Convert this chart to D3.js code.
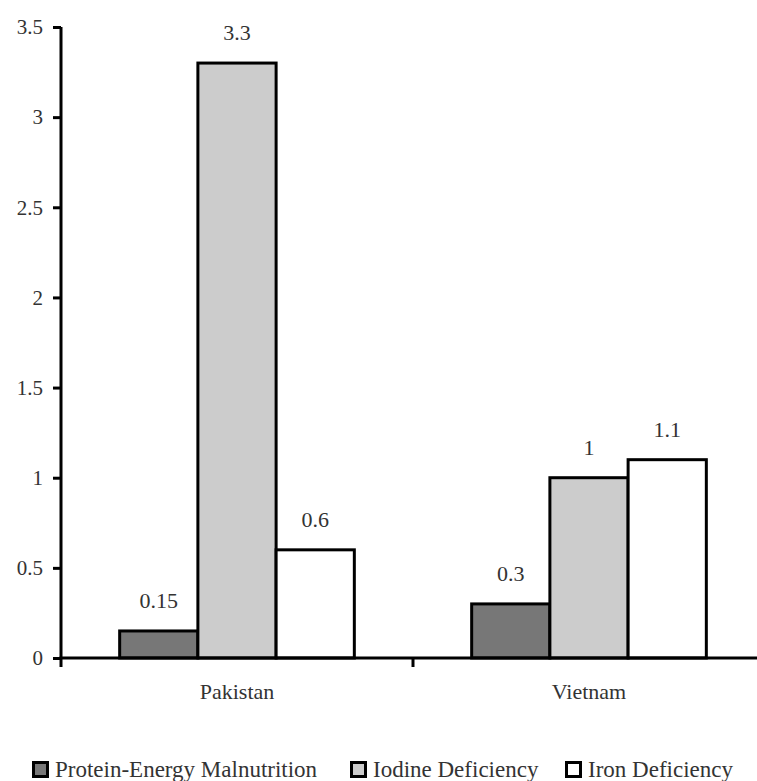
<!DOCTYPE html>
<html>
<head>
<meta charset="utf-8">
<script src="https://cdn.jsdelivr.net/npm/d3@7"></script>
<style>
  html, body { margin: 0; padding: 0; background: #fff; }
  text { font-family: "Liberation Serif", "Times New Roman", Times, serif; }
</style>
</head>
<body>
<svg id="chart" width="757" height="781"></svg>
<script>
const categories = ["Pakistan", "Vietnam"];
const seriesNames = ["Protein-Energy Malnutrition", "Iodine Deficiency", "Iron Deficiency"];
const proteinEnergy = [0.15, 0.3];
const iodine = [3.3, 1];
const iron = [0.6, 1.1];
const valueLabels = [["0.15", "3.3", "0.6"], ["0.3", "1", "1.1"]];
const yTicks = [0, 0.5, 1, 1.5, 2, 2.5, 3, 3.5];
const colors = ["#777777", "#cccccc", "#ffffff"];

const seriesValues = [proteinEnergy, iodine, iron];
const FONT = "Liberation Serif";

const svg = d3.select("#chart");
const mLeft = 61, mRight = 765, mTop = 27, mBottom = 658;

const x = d3.scaleBand().domain(categories).range([mLeft, mRight])
  .paddingInner(1/3).paddingOuter(1/6);
const xs = d3.scaleBand().domain(d3.range(seriesNames.length)).range([0, x.bandwidth()]).padding(0);
const y = d3.scaleLinear().domain([0, 3.5]).range([mBottom, mTop]);

// Bars
categories.forEach((c, ci) => {
  const g = svg.append("g").attr("transform", `translate(${x(c)},0)`);
  seriesValues.forEach((vals, si) => {
    g.append("rect")
      .attr("x", xs(si))
      .attr("y", y(vals[ci]))
      .attr("width", xs.bandwidth())
      .attr("height", y(0) - y(vals[ci]))
      .attr("fill", colors[si])
      .attr("stroke", "#000")
      .attr("stroke-width", 3);
    g.append("text")
      .attr("x", xs(si) + xs.bandwidth() / 2)
      .attr("y", y(vals[ci]) - 23)
      .attr("text-anchor", "middle")
      .attr("font-family", FONT)
      .attr("font-size", 22)
      .attr("fill", "#333")
      .text(valueLabels[ci][si]);
  });
});

// Y axis
const yAxis = d3.axisLeft(y).tickValues(yTicks).tickSize(8).tickPadding(10)
  .tickFormat(d => d3.format("")(d));
const ya = svg.append("g").attr("transform", `translate(${mLeft},0)`).call(yAxis)
  .attr("font-family", FONT).attr("font-size", 21);
ya.select(".domain").attr("stroke", "#000").attr("stroke-width", 3)
  .attr("d", `M0,${mTop}V${mBottom}`);
ya.selectAll(".tick line").attr("stroke", "#000").attr("stroke-width", 3);
ya.selectAll(".tick text").attr("font-size", 21).attr("fill", "#333")
  .attr("font-family", FONT);

// X axis
const xa = svg.append("g").attr("transform", `translate(0,${mBottom})`);
xa.append("line").attr("x1", mLeft - 1.5).attr("x2", mRight).attr("y1", 0).attr("y2", 0)
  .attr("stroke", "#000").attr("stroke-width", 3);
const boundaries = [mLeft, ...categories.slice(1).map(c => x(c) - x.step() * x.paddingInner() / 2), mRight];
boundaries.forEach(b => {
  xa.append("line").attr("x1", b).attr("x2", b).attr("y1", 0).attr("y2", 9)
    .attr("stroke", "#000").attr("stroke-width", 3);
});
categories.forEach(c => {
  xa.append("text")
    .attr("x", x(c) + x.bandwidth() / 2)
    .attr("y", 41)
    .attr("text-anchor", "middle")
    .attr("font-family", FONT)
    .attr("font-size", 22)
    .attr("fill", "#333")
    .text(c);
});

// Legend
const legendX = [32, 350, 565];
const legend = svg.append("g");
seriesNames.forEach((n, i) => {
  legend.append("rect")
    .attr("x", legendX[i] + 1.5).attr("y", 762.5)
    .attr("width", 14).attr("height", 14)
    .attr("fill", colors[i]).attr("stroke", "#000").attr("stroke-width", 3);
  legend.append("text")
    .attr("x", legendX[i] + 23).attr("y", 777)
    .attr("font-family", FONT)
    .attr("font-size", 23)
    .attr("fill", "#333")
    .text(n);
});
</script>
</body>
</html>
